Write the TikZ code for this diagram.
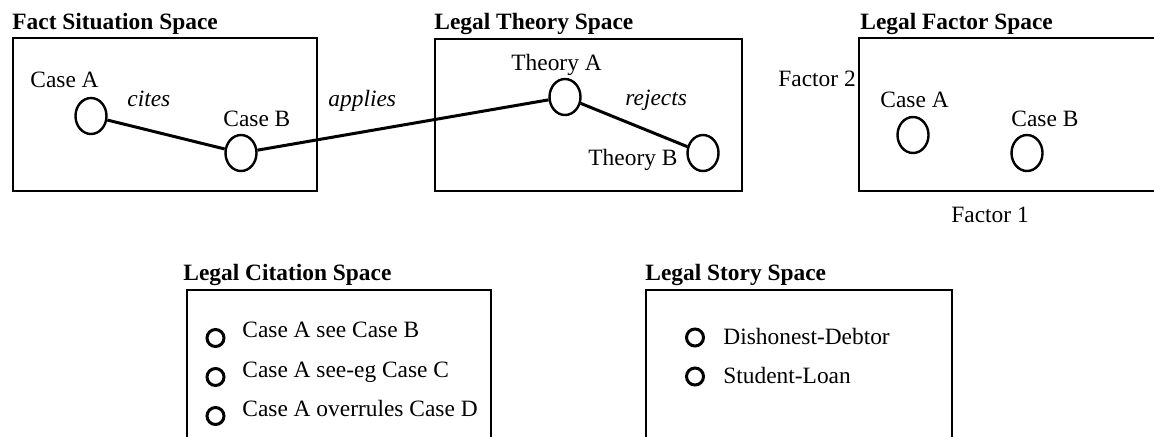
\documentclass[tikz,border=0pt]{standalone}
\usepackage{fontspec}
\setmainfont{Liberation Serif}
\usetikzlibrary{shapes.geometric}
\begin{document}
\begin{tikzpicture}[x=0.5pt,y=-0.5pt,
  txt/.style={inner sep=0pt,anchor=base west,font=\fontsize{11.7}{13}\selectfont},
  ttl/.style={txt,font=\fontsize{11.7}{13}\selectfont\bfseries},
  rel/.style={txt,font=\fontsize{11.7}{13}\selectfont\itshape},
  spacebox/.style={line width=1.3pt},
  caseell/.style={draw,ellipse,line width=1.2pt,inner sep=0pt,minimum width=15.5pt,minimum height=18pt},
  bullet/.style={draw,circle,line width=1.5pt,inner sep=0pt,minimum size=8.5pt},
  link/.style={line width=1.5pt}]
\useasboundingbox (0,0) rectangle (1154,436);
\clip (0,0) rectangle (1154,436);

% titles
\node[ttl] (tfact) at (12,29) {Fact Situation Space};
\node[ttl] (ttheory) at (434,29) {Legal Theory Space};
\node[ttl] (tfactor) at (860,29) {Legal Factor Space};
\node[ttl] (tcite) at (183,280) {Legal Citation Space};
\node[ttl] (tstory) at (645,280) {Legal Story Space};

% boxes
\draw[spacebox] (13,38) rectangle (317,191);
\draw[spacebox] (435,39) rectangle (742,191);
\draw[spacebox] (859,38) rectangle (1164,191);
\draw[spacebox] (187,290) rectangle (491,460);
\draw[spacebox] (646,290) rectangle (952,460);

% fact situation space
\node[caseell] (fa) at (91,116) {};
\node[caseell] (fb) at (241,153) {};
\node[txt] (lfa) at (30,87) {Case A};
\node[txt] (lfb) at (223,126) {Case B};
\node[rel] (lcites) at (127,106) {cites};
\node[rel] (lapplies) at (328,106) {applies};

% legal theory space
\node[caseell] (ta) at (565,97) {};
\node[caseell] (tb) at (703,153) {};
\node[txt] (lta) at (511,70) {Theory A};
\node[txt] (ltb) at (588,165) {Theory B};
\node[rel] (lrejects) at (625,105) {rejects};

\draw[link] (fa) -- (fb);
\draw[link] (fb) -- (ta);
\draw[link] (ta) -- (tb);

% legal factor space
\node[caseell] (xa) at (913,135) {};
\node[caseell] (xb) at (1027,153) {};
\node[txt] (lxa) at (880,107) {Case A};
\node[txt] (lxb) at (1011,126) {Case B};
\node[txt] (lf2) at (778,86) {Factor 2};
\node[txt] (lf1) at (951,222) {Factor 1};

% legal citation space
\node[bullet] (c1) at (215.5,338) {};
\node[bullet] (c2) at (215.5,377) {};
\node[bullet] (c3) at (215.5,416) {};
\node[txt] (lc1) at (242,337) {Case A see Case B};
\node[txt] (lc2) at (242,377) {Case A see-eg Case C};
\node[txt] (lc3) at (242,416) {Case A overrules Case D};

% legal story space
\node[bullet] (s1) at (695,337.5) {};
\node[bullet] (s2) at (695,376.5) {};
\node[txt] (ls1) at (723,344) {Dishonest-Debtor};
\node[txt] (ls2) at (723,383) {Student-Loan};
\end{tikzpicture}
\end{document}
